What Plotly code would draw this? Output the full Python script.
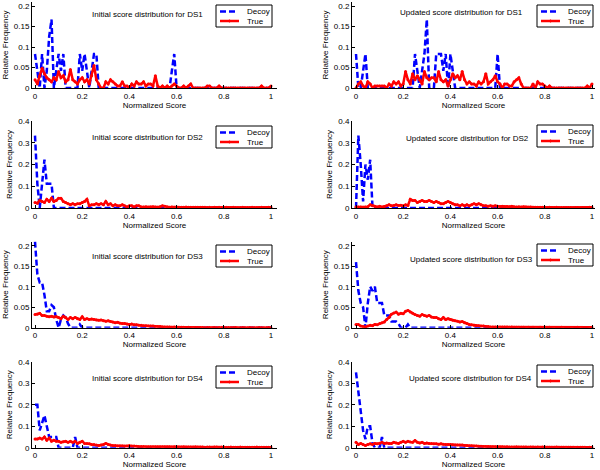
import plotly.graph_objects as go

# ---------------- data ----------------
score_bins = [round(i * 0.01, 2) for i in range(101)]

ds1_init_decoy = [
    0.083, 0.042, 0, 0.083, 0, 0.042, 0.125, 0.167, 0, 0.042,
    0.083, 0.042, 0.083, 0, 0, 0, 0, 0, 0, 0.083,
    0.042, 0.083, 0.042, 0, 0.042, 0.083, 0.083, 0, 0, 0,
    0, 0, 0, 0, 0, 0, 0, 0, 0, 0,
    0, 0, 0, 0, 0, 0, 0, 0, 0, 0,
    0, 0, 0, 0, 0, 0, 0, 0, 0.042, 0.083,
    0, 0, 0, 0, 0, 0, 0, 0, 0, 0,
    0, 0, 0, 0, 0, 0, 0, 0, 0, 0,
    0, 0, 0, 0, 0, 0, 0, 0, 0, 0,
    0, 0, 0, 0, 0, 0, 0, 0, 0, 0,
    0]
ds1_init_true = [
    0.02, 0.01, 0.03, 0.048, 0.035, 0.025, 0.02, 0.015, 0.025, 0.02,
    0.04, 0.025, 0.03, 0.015, 0.02, 0.045, 0.02, 0.015, 0.01, 0.02,
    0.025, 0.015, 0.02, 0.01, 0.03, 0.055, 0.02, 0.01, 0, 0,
    0.015, 0.01, 0.02, 0.015, 0.01, 0.005, 0.005, 0.015, 0.005, 0.005,
    0, 0.01, 0.005, 0.015, 0.01, 0.01, 0.015, 0.005, 0.01, 0.01,
    0.005, 0.03, 0.005, 0, 0.005, 0, 0.005, 0, 0.005, 0.01,
    0.005, 0, 0, 0.005, 0, 0.005, 0.01, 0, 0, 0,
    0, 0, 0, 0.005, 0.005, 0, 0, 0, 0.005, 0,
    0, 0, 0, 0, 0, 0, 0, 0, 0, 0,
    0, 0, 0, 0, 0, 0, 0.005, 0, 0, 0,
    0.005]
ds1_upd_decoy = [
    0.083, 0, 0, 0.042, 0.083, 0, 0, 0, 0, 0,
    0, 0, 0, 0, 0, 0, 0, 0, 0, 0,
    0, 0, 0, 0, 0, 0.083, 0.042, 0, 0.042, 0.083,
    0.167, 0, 0, 0, 0.083, 0.083, 0.083, 0.042, 0.083, 0,
    0.083, 0.042, 0, 0, 0, 0, 0, 0, 0, 0,
    0, 0, 0, 0, 0, 0, 0, 0, 0, 0,
    0.083, 0, 0, 0, 0, 0, 0, 0, 0, 0,
    0, 0, 0, 0, 0, 0, 0, 0, 0, 0,
    0, 0, 0, 0, 0, 0, 0, 0, 0, 0,
    0, 0, 0, 0, 0, 0, 0, 0, 0, 0,
    0]
ds1_upd_true = [
    0, 0.01, 0.015, 0.005, 0, 0.015, 0.01, 0, 0.005, 0.005,
    0.005, 0.005, 0.005, 0, 0.01, 0.005, 0.015, 0.01, 0.015, 0.005,
    0.01, 0.04, 0.02, 0.01, 0.035, 0.02, 0.03, 0.02, 0.01, 0.04,
    0.025, 0.02, 0.025, 0.025, 0.015, 0.04, 0.02, 0.015, 0.02, 0.005,
    0.02, 0.035, 0.025, 0.03, 0.02, 0.04, 0.02, 0.01, 0.015, 0.01,
    0.01, 0.005, 0.015, 0.01, 0.015, 0.035, 0.01, 0.015, 0.02, 0.03,
    0.015, 0.01, 0, 0.01, 0.01, 0.005, 0.005, 0.015, 0.02, 0.025,
    0.01, 0, 0, 0, 0, 0.01, 0, 0.015, 0.01, 0.01,
    0.005, 0, 0.005, 0, 0, 0, 0, 0, 0, 0,
    0, 0, 0, 0, 0, 0, 0, 0, 0.005, 0,
    0.01]

ds2_init_decoy = [
    0.333, 0.111, 0, 0.111, 0.222, 0.111, 0.111, 0.111, 0, 0,
    0, 0, 0, 0, 0, 0, 0, 0, 0, 0,
    0, 0, 0, 0, 0, 0, 0, 0, 0, 0,
    0, 0, 0, 0, 0, 0, 0, 0, 0, 0,
    0, 0, 0, 0, 0, 0, 0, 0, 0, 0,
    0, 0, 0, 0, 0, 0, 0, 0, 0, 0,
    0, 0, 0, 0, 0, 0, 0, 0, 0, 0,
    0, 0, 0, 0, 0, 0, 0, 0, 0, 0,
    0, 0, 0, 0, 0, 0, 0, 0, 0, 0,
    0, 0, 0, 0, 0, 0, 0, 0, 0, 0,
    0]
ds2_init_true = [
    0.025, 0.022, 0.035, 0.03, 0.025, 0.04, 0.03, 0.045, 0.03, 0.035,
    0.045, 0.045, 0.03, 0.025, 0.02, 0.015, 0.02, 0.015, 0.02, 0.02,
    0.025, 0.03, 0.04, 0.01, 0.015, 0.015, 0.02, 0.015, 0.02, 0.015,
    0.03, 0.015, 0.02, 0.01, 0.015, 0.01, 0.01, 0.015, 0.01, 0.005,
    0.01, 0.01, 0.005, 0.01, 0.01, 0.005, 0.005, 0.006, 0.004, 0.005,
    0.006, 0.005, 0.004, 0.006, 0.01, 0.008, 0.005, 0.004, 0.005, 0.004,
    0.005, 0.004, 0.003, 0.004, 0.005, 0.003, 0.004, 0.003, 0.004, 0.003,
    0.003, 0.004, 0.003, 0.002, 0.003, 0.002, 0.003, 0.002, 0.003, 0.002,
    0.002, 0.003, 0.002, 0.002, 0.003, 0.002, 0.002, 0.002, 0.003, 0.002,
    0.002, 0.002, 0.003, 0.002, 0.002, 0.002, 0.003, 0.002, 0.002, 0.004,
    0.003]
ds2_upd_decoy = [
    0, 0.333, 0.2, 0.03, 0.2, 0.13, 0.222, 0, 0, 0,
    0, 0, 0, 0, 0, 0, 0, 0, 0, 0,
    0, 0, 0, 0, 0, 0, 0, 0, 0, 0,
    0, 0, 0, 0, 0, 0, 0, 0, 0, 0,
    0, 0, 0, 0, 0, 0, 0, 0, 0, 0,
    0, 0, 0, 0, 0, 0, 0, 0, 0, 0,
    0, 0, 0, 0, 0, 0, 0, 0, 0, 0,
    0, 0, 0, 0, 0, 0, 0, 0, 0, 0,
    0, 0, 0, 0, 0, 0, 0, 0, 0, 0,
    0, 0, 0, 0, 0, 0, 0, 0, 0, 0,
    0]
ds2_upd_true = [
    0.005, 0.005, 0.005, 0.004, 0.005, 0.006, 0.015, 0.01, 0.008, 0.005,
    0.008, 0.005, 0.007, 0.01, 0.015, 0.01, 0.012, 0.015, 0.012, 0.013,
    0.01, 0.015, 0.012, 0.04, 0.035, 0.035, 0.025, 0.03, 0.035, 0.03,
    0.03, 0.035, 0.03, 0.025, 0.03, 0.025, 0.02, 0.02, 0.025, 0.03,
    0.025, 0.02, 0.015, 0.015, 0.01, 0.015, 0.01, 0.015, 0.01, 0.015,
    0.02, 0.015, 0.02, 0.015, 0.01, 0.01, 0.008, 0.01, 0.008, 0.01,
    0.008, 0.007, 0.008, 0.006, 0.007, 0.006, 0.008, 0.006, 0.005, 0.006,
    0.005, 0.006, 0.005, 0.004, 0.005, 0.004, 0.003, 0.004, 0.003, 0.003,
    0.003, 0.002, 0.003, 0.002, 0.002, 0.003, 0.002, 0.002, 0.002, 0.002,
    0.002, 0.002, 0.001, 0.002, 0.002, 0.001, 0.002, 0.001, 0.002, 0.003,
    0.004]

ds3_init_decoy = [
    0.21, 0.13, 0.11, 0.11, 0.08, 0.04, 0.04, 0.055, 0.05, 0.02,
    0, 0.02, 0.03, 0.025, 0.01, 0, 0, 0, 0, 0.008,
    0, 0, 0, 0, 0, 0, 0, 0, 0, 0,
    0, 0, 0, 0, 0, 0, 0, 0, 0, 0,
    0, 0, 0, 0, 0, 0, 0, 0, 0, 0,
    0, 0, 0, 0, 0, 0, 0, 0, 0, 0,
    0, 0, 0, 0, 0, 0, 0, 0, 0, 0,
    0, 0, 0, 0, 0, 0, 0, 0, 0, 0,
    0, 0, 0, 0, 0, 0, 0, 0, 0, 0,
    0, 0, 0, 0, 0, 0, 0, 0, 0, 0,
    0]
ds3_init_true = [
    0.032, 0.033, 0.035, 0.03, 0.03, 0.028, 0.027, 0.028, 0.026, 0.027,
    0.025, 0.022, 0.028, 0.025, 0.02, 0.025, 0.022, 0.025, 0.022, 0.02,
    0.027, 0.02, 0.022, 0.02, 0.021, 0.02, 0.019, 0.018, 0.019, 0.017,
    0.016, 0.017, 0.015, 0.014, 0.012, 0.013, 0.011, 0.01, 0.01, 0.009,
    0.008, 0.009, 0.007, 0.007, 0.006, 0.006, 0.005, 0.005, 0.004, 0.004,
    0.004, 0.003, 0.003, 0.003, 0.002, 0.002, 0.002, 0.002, 0.001, 0.002,
    0.001, 0.001, 0.001, 0.001, 0.0005, 0.001, 0.0005, 0.0005, 0.0005, 0.0005,
    0.0005, 0.0005, 0, 0.0005, 0.0005, 0, 0.0005, 0, 0.0005, 0,
    0.0005, 0, 0.0005, 0, 0, 0.0005, 0, 0, 0.0005, 0,
    0, 0.0005, 0, 0, 0, 0.0005, 0, 0, 0, 0.0005,
    0]
ds3_upd_decoy = [
    0.16, 0.09, 0.06, 0.05, 0, 0.06, 0.1, 0.09, 0.1, 0.06,
    0.06, 0.06, 0.03, 0.03, 0.03, 0.015, 0.015, 0.015, 0.01, 0,
    0, 0, 0.008, 0, 0, 0, 0, 0, 0, 0,
    0, 0, 0, 0, 0, 0, 0, 0, 0, 0,
    0, 0, 0, 0, 0, 0, 0, 0, 0, 0,
    0, 0, 0, 0, 0, 0, 0, 0, 0, 0,
    0, 0, 0, 0, 0, 0, 0, 0, 0, 0,
    0, 0, 0, 0, 0, 0, 0, 0, 0, 0,
    0, 0, 0, 0, 0, 0, 0, 0, 0, 0,
    0, 0, 0, 0, 0, 0, 0, 0, 0, 0,
    0]
ds3_upd_true = [
    0.008, 0.008, 0.004, 0.003, 0.002, 0.004, 0.006, 0.005, 0.008, 0.007,
    0.01, 0.012, 0.014, 0.02, 0.025, 0.033, 0.036, 0.038, 0.033, 0.035,
    0.034, 0.04, 0.042, 0.038, 0.035, 0.032, 0.03, 0.028, 0.032, 0.03,
    0.028, 0.03, 0.026, 0.025, 0.025, 0.022, 0.02, 0.025, 0.02, 0.022,
    0.02, 0.018, 0.017, 0.016, 0.014, 0.015, 0.012, 0.01, 0.008, 0.007,
    0.006, 0.005, 0.005, 0.004, 0.004, 0.003, 0.003, 0.002, 0.002, 0.002,
    0.002, 0.002, 0.0015, 0.002, 0.0015, 0.001, 0.0015, 0.001, 0.001, 0.001,
    0.001, 0.001, 0.0005, 0.001, 0.0005, 0.001, 0.0005, 0.0005, 0.001, 0.0005,
    0.0005, 0.0005, 0.001, 0.0005, 0.0005, 0.0005, 0.0005, 0.001, 0.0005, 0.0005,
    0.0005, 0.0005, 0.0005, 0.0005, 0.001, 0.0005, 0.0005, 0.0005, 0.0005, 0.0005,
    0.001]

ds4_init_decoy = [
    0.2, 0.2, 0.08, 0.12, 0.15, 0.1, 0.05, 0.05, 0.05, 0.05,
    0, 0, 0, 0, 0, 0, 0, 0.05, 0, 0,
    0, 0, 0, 0, 0, 0, 0, 0, 0, 0,
    0, 0, 0, 0, 0, 0, 0, 0, 0, 0,
    0, 0, 0, 0, 0, 0, 0, 0, 0, 0,
    0, 0, 0, 0, 0, 0, 0, 0, 0, 0,
    0, 0, 0, 0, 0, 0, 0, 0, 0, 0,
    0, 0, 0, 0, 0, 0, 0, 0, 0, 0,
    0, 0, 0, 0, 0, 0, 0, 0, 0, 0,
    0, 0, 0, 0, 0, 0, 0, 0, 0, 0,
    0]
ds4_init_true = [
    0.04, 0.04, 0.045, 0.04, 0.05, 0.035, 0.045, 0.03, 0.035, 0.03,
    0.03, 0.025, 0.028, 0.03, 0.025, 0.03, 0.025, 0.03, 0.02, 0.025,
    0.03, 0.02, 0.02, 0.018, 0.015, 0.015, 0.012, 0.01, 0.012, 0.015,
    0.02, 0.015, 0.012, 0.01, 0.01, 0.008, 0.008, 0.008, 0.007, 0.008,
    0.01, 0.008, 0.008, 0.007, 0.006, 0.006, 0.006, 0.005, 0.005, 0.005,
    0.005, 0.004, 0.004, 0.005, 0.004, 0.004, 0.004, 0.004, 0.003, 0.004,
    0.004, 0.003, 0.003, 0.004, 0.003, 0.003, 0.003, 0.003, 0.004, 0.003,
    0.003, 0.003, 0.002, 0.003, 0.003, 0.002, 0.003, 0.003, 0.002, 0.003,
    0.003, 0.002, 0.002, 0.003, 0.002, 0.002, 0.002, 0.003, 0.002, 0.002,
    0.002, 0.002, 0.002, 0.002, 0.003, 0.002, 0.002, 0.002, 0.002, 0.002,
    0.002]
ds4_upd_decoy = [
    0.35, 0.25, 0.15, 0.08, 0.04, 0.1, 0.1, 0.02, 0, 0,
    0, 0.05, 0, 0, 0, 0, 0, 0, 0, 0,
    0, 0, 0, 0, 0, 0, 0, 0, 0, 0,
    0, 0, 0, 0, 0, 0, 0, 0, 0, 0,
    0, 0, 0, 0, 0, 0, 0, 0, 0, 0,
    0, 0, 0, 0, 0, 0, 0, 0, 0, 0,
    0, 0, 0, 0, 0, 0, 0, 0, 0, 0,
    0, 0, 0, 0, 0, 0, 0, 0, 0, 0,
    0, 0, 0, 0, 0, 0, 0, 0, 0, 0,
    0, 0, 0, 0, 0, 0, 0, 0, 0, 0,
    0]
ds4_upd_true = [
    0.025, 0.015, 0.02, 0.015, 0.01, 0.015, 0.018, 0.015, 0.02, 0.018,
    0.02, 0.025, 0.02, 0.022, 0.02, 0.02, 0.025, 0.022, 0.02, 0.025,
    0.03, 0.025, 0.03, 0.027, 0.025, 0.033, 0.025, 0.022, 0.025, 0.02,
    0.022, 0.02, 0.02, 0.018, 0.018, 0.016, 0.018, 0.016, 0.015, 0.015,
    0.015, 0.014, 0.013, 0.013, 0.012, 0.012, 0.01, 0.01, 0.009, 0.009,
    0.008, 0.008, 0.007, 0.007, 0.006, 0.006, 0.006, 0.005, 0.005, 0.005,
    0.004, 0.004, 0.004, 0.003, 0.004, 0.003, 0.003, 0.003, 0.004, 0.003,
    0.003, 0.003, 0.003, 0.002, 0.003, 0.003, 0.002, 0.003, 0.002, 0.003,
    0.003, 0.002, 0.002, 0.002, 0.002, 0.003, 0.002, 0.002, 0.002, 0.002,
    0.002, 0.002, 0.002, 0.001, 0.002, 0.002, 0.002, 0.002, 0.001, 0.002,
    0.002]

panel_titles = [
    "Initial score distribution for DS1", "Updated score distribution for DS1",
    "Initial score distribution for DS2", "Updated score distribution for DS2",
    "Initial score distribution for DS3", "Updated score distribution for DS3",
    "Initial score distribution for DS4", "Updated score distribution for DS4",
]
decoy_series = [ds1_init_decoy, ds1_upd_decoy, ds2_init_decoy, ds2_upd_decoy,
                ds3_init_decoy, ds3_upd_decoy, ds4_init_decoy, ds4_upd_decoy]
true_series = [ds1_init_true, ds1_upd_true, ds2_init_true, ds2_upd_true,
               ds3_init_true, ds3_upd_true, ds4_init_true, ds4_upd_true]

x_ticks = [0, 0.2, 0.4, 0.6, 0.8, 1]
x_ticktext = ["0", "0.2", "0.4", "0.6", "0.8", "1"]
y_ticks_small = [0, 0.05, 0.1, 0.15, 0.2]
y_ticktext_small = ["0", "0.05", "0.1", "0.15", "0.2"]
y_ticks_large = [0, 0.1, 0.2, 0.3, 0.4]
y_ticktext_large = ["0", "0.1", "0.2", "0.3", "0.4"]

# ---------------- layout geometry (pixels) ----------------
W, H = 600, 470
FONT = "Liberation Sans, Arial, sans-serif"
BLUE = "rgb(0,0,255)"
RED = "rgb(255,0,0)"

col_px = [(32, 277, [-0.0127, 1.0254]), (352, 595, [-0.017, 1.0127])]
row_px = [(1.9, 88, [0, 0.21], y_ticks_small, y_ticktext_small),
          (121, 208, [0, 0.4], y_ticks_large, y_ticktext_large),
          (241.6, 327.7, [0, 0.21], y_ticks_small, y_ticktext_small),
          (361.7, 447.7, [0, 0.4], y_ticks_large, y_ticktext_large)]
title_px = [(147, 15), (461, 13), (147.5, 137.7), (467, 139),
            (147, 256.7), (471, 259), (147, 378.3), (470, 378)]
legend_px = [(216, 5), (537, 5), (216, 126), (537, 125),
             (216, 245), (537, 244), (216, 366), (537, 365)]


def px(xp):
    return xp / W


def py(yp):
    return 1 - yp / H


fig = go.Figure()
layout = dict(width=W, height=H, margin=dict(l=0, r=0, t=0, b=0, autoexpand=False),
              paper_bgcolor="white", plot_bgcolor="white", showlegend=False,
              font=dict(family=FONT, size=8, color="black"))
shapes = []
annotations = []

for k in range(8):
    r, c = divmod(k, 2)
    n = "" if k == 0 else str(k + 1)
    x0, x1, xr = col_px[c]
    ytop, ybot, yr, yt, ytt = row_px[r]
    fig.add_trace(go.Scatter(x=score_bins, y=decoy_series[k], mode="lines",
                             name="Decoy", xaxis="x" + n, yaxis="y" + n,
                             line=dict(color=BLUE, width=2.5, dash="6px,3px")))
    fig.add_trace(go.Scatter(x=score_bins, y=true_series[k], mode="lines+markers",
                             name="True", xaxis="x" + n, yaxis="y" + n,
                             line=dict(color=RED, width=2.5),
                             marker=dict(color=RED, size=3)))
    layout["xaxis" + n] = dict(domain=[px(x0), px(x1)], range=xr, anchor="y" + n,
                               automargin=False,
                               tickvals=x_ticks, ticktext=x_ticktext,
                               showline=True, linecolor="black", linewidth=1,
                               ticks="inside", ticklen=3, tickcolor="black",
                               showgrid=False, zeroline=False,
                               tickfont=dict(size=8),
                               title=dict(text="Normalized Score", standoff=2,
                                          font=dict(size=8)))
    layout["yaxis" + n] = dict(domain=[py(ybot), py(ytop)], range=yr, anchor="x" + n,
                               automargin=False,
                               tickvals=yt, ticktext=ytt,
                               showline=True, linecolor="black", linewidth=1,
                               ticks="inside", ticklen=3, tickcolor="black",
                               showgrid=False, zeroline=False,
                               tickfont=dict(size=8),
                               title=dict(text="Relative Frequency", standoff=4,
                                          font=dict(size=8)))
    tx, ty = title_px[k]
    annotations.append(dict(x=px(tx), y=py(ty), xref="paper", yref="paper",
                            text=panel_titles[k], showarrow=False,
                            xanchor="center", yanchor="middle",
                            font=dict(size=8, color="black")))
    # legend box
    lx, ly = legend_px[k]
    lw, lh = 56, 22
    shapes.append(dict(type="rect", xref="paper", yref="paper",
                       x0=px(lx), x1=px(lx + lw), y0=py(ly), y1=py(ly + lh),
                       line=dict(color="black", width=1), fillcolor="white"))
    shapes.append(dict(type="line", xref="paper", yref="paper",
                       x0=px(lx + 4), x1=px(lx + 22), y0=py(ly + 6.5), y1=py(ly + 6.5),
                       line=dict(color=BLUE, width=2.5, dash="6px,3px")))
    shapes.append(dict(type="line", xref="paper", yref="paper",
                       x0=px(lx + 4), x1=px(lx + 23), y0=py(ly + 16), y1=py(ly + 16),
                       line=dict(color=RED, width=2.5)))
    shapes.append(dict(type="circle", xref="paper", yref="paper",
                       x0=px(lx + 12.5), x1=px(lx + 14.5), y0=py(ly + 17), y1=py(ly + 15),
                       line=dict(color=RED, width=1), fillcolor=RED))
    annotations.append(dict(x=px(lx + 29), y=py(ly + 6.5), xref="paper", yref="paper",
                            text="Decoy", showarrow=False, xanchor="left",
                            yanchor="middle", font=dict(size=8, color="black")))
    annotations.append(dict(x=px(lx + 29), y=py(ly + 16), xref="paper", yref="paper",
                            text="True", showarrow=False, xanchor="left",
                            yanchor="middle", font=dict(size=8, color="black")))

layout["shapes"] = shapes
layout["annotations"] = annotations
fig.update_layout(**layout)
fig.write_html("out.html",
               config={"displayModeBar": False},
               post_script="document.body.style.margin='0';"
                           "document.body.style.overflow='hidden';")
